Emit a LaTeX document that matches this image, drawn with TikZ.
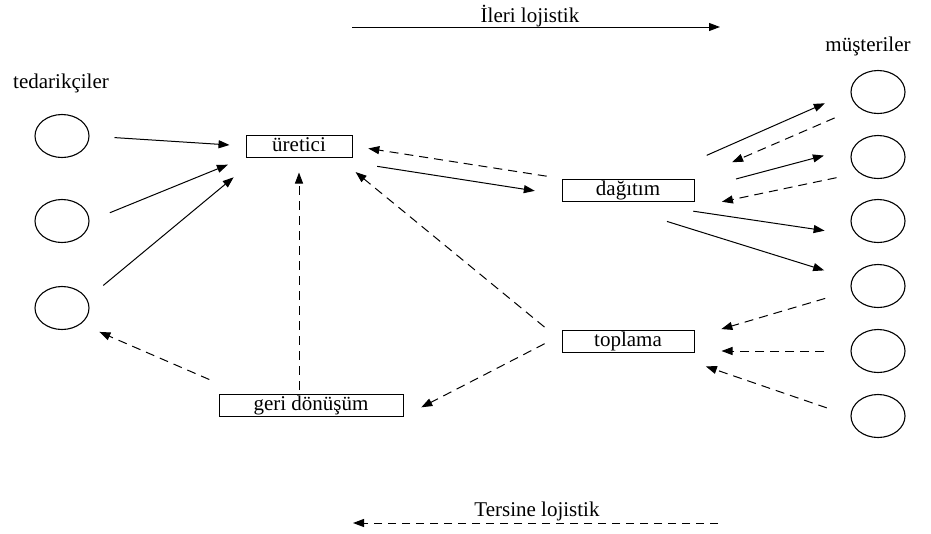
\documentclass[tikz,border=0pt]{standalone}
\usepackage{fontspec}
\setmainfont{Liberation Serif}
\usetikzlibrary{arrows.meta,shapes.geometric}

\begin{document}
\begin{tikzpicture}[x=1pt,y=-1pt,
  every node/.style={font=\fontsize{21}{24}\selectfont},
  actor/.style={draw,ellipse,minimum width=54pt,minimum height=43pt,line width=1.1pt},
  stage/.style={draw,rectangle,minimum height=22pt,inner sep=0pt,line width=1pt,text height=15pt,text depth=3.5pt},
  fwd/.style={-{Triangle[length=11pt,width=8pt]},line width=1pt},
  rev/.style={fwd,dash pattern=on 9pt off 6pt}]
\useasboundingbox (0,0) rectangle (931,533);
\node (ileri) at (530,16) {İleri lojistik};
\coordinate (fwdA) at (352,27);
\coordinate (fwdB) at (720,27);
\draw[fwd] (fwdA) -- (fwdB);
\node (tedarik) at (61,83) {tedarikçiler};
\node (musteri) at (868,46) {müşteriler};
\node[actor] (s1) at (62,136) {};
\node[actor] (s2) at (62,221) {};
\node[actor] (s3) at (62,308) {};
\node[actor] (c1) at (878,92) {};
\node[actor] (c2) at (878,157) {};
\node[actor] (c3) at (878,221) {};
\node[actor] (c4) at (878,286) {};
\node[actor] (c5) at (878,351) {};
\node[actor] (c6) at (878,416) {};
\node[stage,minimum width=106pt] (uretici) at (299,146) {üretici};
\node[stage,minimum width=132pt] (dagitim) at (628,190) {dağıtım};
\node[stage,minimum width=132pt] (toplama) at (628,341) {toplama};
\node[stage,minimum width=184pt] (geri) at (311,405) {geri dönüşüm};
\draw[fwd,shorten <=25pt,shorten >=16pt] (s1.east) -- (uretici.west);
\draw[fwd,shorten <=22pt,shorten >=19pt] (s2.east) -- (uretici.south west);
\draw[fwd,shorten <=21pt,shorten >=31pt] (s3.20) -- ([xshift=12pt]uretici.south west);
\draw[fwd,shorten <=25pt,shorten >=27pt] ([yshift=-5pt]uretici.south east) -- ([yshift=-5pt]dagitim.west);
\draw[rev,shorten <=15pt,shorten >=16pt] (dagitim.north west) -- (uretici.east);
\draw[rev,shorten <=22pt,shorten >=4pt] (toplama.west) -- ([yshift=-12pt]uretici.south east);
\draw[rev,shorten <=4pt,shorten >=15pt] (uretici.south |- geri.north) -- (uretici.south);
\draw[rev,shorten <=10pt,shorten >=20pt] ([yshift=10pt]geri.north west) -- (s3.-40);
\draw[rev,shorten <=19pt,shorten >=20pt] ([yshift=6pt]toplama.west) -- (geri.south east);
\draw[fwd,shorten <=86pt,shorten >=28pt] (dagitim.center) -- (c1.west);
\draw[rev,shorten <=26pt,shorten >=41pt] (c1.south west) -- (dagitim.north east);
\draw[fwd,shorten <=43pt,shorten >=30pt] (dagitim.east) -- (c2.160);
\draw[rev,shorten <=23pt,shorten >=28pt] (c2.220) -- ([yshift=-6pt]dagitim.south east);
\draw[fwd,shorten <=66pt,shorten >=33pt] (dagitim.south) -- (c3.215);
\draw[fwd,shorten <=67pt,shorten >=29pt] ([xshift=-25pt]dagitim.south) -- (c4.165);
\draw[rev,shorten <=27pt,shorten >=28pt] (c4.190) -- ([yshift=4pt]toplama.east);
\draw[rev,shorten <=26pt,shorten >=27pt] (c5.west) -- (c5.west -| toplama.east);
\draw[rev,shorten <=25pt,shorten >=12pt] (c6.west) -- ([yshift=-10pt]toplama.south east);
\coordinate (revA) at (718,523);
\coordinate (revB) at (353,523);
\draw[rev,dash pattern=on 8pt off 6pt] (revA) -- (revB);
\node (tersine) at (537,511) {Tersine lojistik};
\end{tikzpicture}
\end{document}
